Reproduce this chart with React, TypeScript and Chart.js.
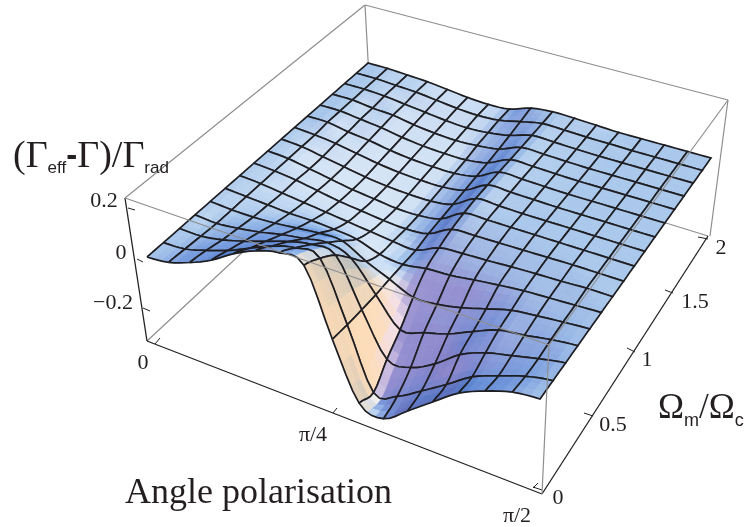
import React, { useEffect, useRef } from "react";
import { Chart, registerables } from "chart.js";
Chart.register(...registerables);

const thetaTicks = ["0", "π/4", "π/2"];
const omegaTicks = ["0", "0.5", "1", "1.5", "2"];
const zTicks = ["0.2", "0", "−0.2"];

const z0 = [0,.01,.04,.08,.136,.18,.205,.19,-.06,-.27,-.295,-.23,-.16,-.09,-.045,-.012,0];
const z1 = [0,.005,.03,.06,.10,.14,.165,.157,-.067,-.295,-.275,-.22,-.16,-.095,-.055,-.02,0];
const z2 = [0,0,.015,.04,.07,.10,.12,.11,-.07,-.23,-.228,-.18,-.11,-.068,-.044,-.02,0];
const z3 = [0,-.005,.005,.02,.04,.055,.07,.04,-.072,-.177,-.155,-.127,-.084,-.044,-.03,-.012,0];
const z4 = [0,-.005,-.005,0,.01,.02,.02,-.03,-.07,-.11,-.105,-.086,-.058,-.03,-.018,-.008,0];
const z5 = [0,-.005,-.01,-.015,-.015,-.02,-.03,-.06,-.07,-.055,-.05,-.037,-.025,-.015,-.01,-.005,0];
const z6 = [0,-.005,-.015,-.025,-.035,-.045,-.055,-.065,-.07,-.03,-.022,-.018,-.012,-.008,-.005,0,0];
const z7 = [0,-.005,-.015,-.03,-.045,-.055,-.065,-.07,-.06,-.012,-.008,-.006,-.004,-.002,0,0,0];
const z8 = [0,-.005,-.02,-.035,-.05,-.06,-.07,-.07,-.055,-.002,0,0,0,0,0,0,0];
const z9 = [0,-.005,-.02,-.035,-.05,-.06,-.065,-.065,-.05,.003,.002,0,0,0,0,0,0];
const z10 = [0,-.005,-.015,-.03,-.045,-.055,-.06,-.06,-.045,.005,.004,.002,0,0,0,0,0];
const z11 = [0,0,-.015,-.025,-.04,-.05,-.055,-.055,-.04,.006,.005,.002,0,0,0,0,0];
const z12 = [0,0,-.01,-.02,-.035,-.045,-.05,-.05,-.035,.006,.005,.002,0,0,0,0,0];
const z13 = [0,0,-.01,-.015,-.03,-.04,-.045,-.04,-.028,.006,.005,.002,0,0,0,0,0];
const z14 = [0,0,-.005,-.015,-.025,-.035,-.04,-.035,-.02,.007,.005,.002,0,0,0,0,0];
const z15 = [0,0,-.005,-.01,-.02,-.03,-.035,-.03,-.01,.008,.006,.003,.002,0,0,0,0];
const z16 = [0,0,-.005,-.01,-.02,-.03,-.035,-.03,0,.01,.008,.004,0,0,0,0,0];
const Z = [z0,z1,z2,z3,z4,z5,z6,z7,z8,z9,z10,z11,z12,z13,z14,z15,z16];
const N = 16;

// projection of the plotted box
const A = [147, 257], B = [540, 399], C = [711, 158], D = [368, 63];
const det = (a: number[], b: number[]) => a[0] * b[1] - a[1] * b[0];
const dx1 = [B[0] - C[0], B[1] - C[1]], dx2 = [D[0] - C[0], D[1] - C[1]];
const sv0 = [A[0] - B[0] + C[0] - D[0], A[1] - B[1] + C[1] - D[1]];
const g = det(sv0, dx2) / det(dx1, dx2), h = det(dx1, sv0) / det(dx1, dx2);
const blin = (a: number, b: number, c: number, d: number, u: number, v: number) =>
  a * (1 - u) * (1 - v) + b * u * (1 - v) + c * u * v + d * (1 - u) * v;
function project(u: number, v: number, z: number) {
  const w = 1 + g * u + h * v;
  const qx = (A[0] + (B[0] * (1 + g) - A[0]) * u + (D[0] * (1 + h) - A[0]) * v) / w;
  const qy = (A[1] + (B[1] * (1 + g) - A[1]) * u + (D[1] * (1 + h) - A[1]) * v) / w;
  const s = blin(260, 262, 237, 223, u, v);
  const tilt = blin(-0.154, 0.047, 0.133, -0.024, u, v);
  return { x: qx + z * s * tilt, y: qy - z * s };
}
const cr = (p0: number, p1: number, p2: number, p3: number, t: number) =>
  0.5 * (2 * p1 + (p2 - p0) * t + (2 * p0 - 5 * p1 + 4 * p2 - p3) * t * t + (3 * p1 - p0 - 3 * p2 + p3) * t * t * t);
const clampI = (n: number) => Math.max(0, Math.min(N, n));
function zAt(i: number, j: number) {
  const i0 = Math.min(N - 1, Math.floor(i)), j0 = Math.min(N - 1, Math.floor(j));
  const ti = i - i0, tj = j - j0;
  const col = [-1, 0, 1, 2].map((dj) => {
    const r = Z[clampI(j0 + dj)];
    return cr(r[clampI(i0 - 1)], r[i0], r[i0 + 1], r[clampI(i0 + 2)], ti);
  });
  return cr(col[0], col[1], col[2], col[3], tj);
}
const P = (i: number, j: number) => project(i / N, j / N, zAt(i, j));

const mix = (a: number[], b: number[], t: number) => a.map((v, k) => v + (b[k] - v) * t);
const base = [170, 200, 235];
const lightStops: [number, number[]][] = [[0, base], [0.3, [216, 231, 247]], [0.9, [248, 240, 232]], [1.7, [252, 222, 190]], [9, [252, 213, 170]]];
const darkStops: [number, number[]][] = [[0, base], [0.45, [125, 160, 222]], [0.9, [88, 128, 206]], [1.4, [100, 100, 175]], [9, [90, 78, 140]]];
function ramp(st: [number, number[]][], a: number) {
  for (let k = 1; k < st.length; k++) if (a <= st[k][0]) return mix(st[k - 1][1], st[k][1], (a - st[k - 1][0]) / (st[k][0] - st[k - 1][0]));
  return st[st.length - 1][1];
}
const PURPLE = [150, 138, 205], PINK = [242, 220, 236], PALE = [218, 232, 247];
function shade(i: number, j: number) {
  const e = 0.25;
  const su = (zAt(Math.min(N, i + e), j) - zAt(Math.max(0, i - e), j)) / (2 * e) * N;
  const sv = (zAt(i, Math.min(N, j + e)) - zAt(i, Math.max(0, j - e))) / (2 * e) * N;
  let c = su < 0 ? ramp(lightStops, -su) : ramp(darkStops, su);
  if (sv > 0) {
    let k = Math.min(1, sv / 0.9) * 0.85;
    if (su < -1.5) k *= Math.max(0, 1 - (-su - 1.5) / 1.0);
    const target = su < -0.3 ? mix(PURPLE, PINK, Math.min(1, (-su - 0.3) / 0.8)) : PURPLE;
    c = mix(c, target, k);
  } else {
    const k = Math.min(1, -sv / 1.2);
    c = mix(c, [c[0] * 0.72, c[1] * 0.85, c[2]], k);
  }
  if (i < 7.3 && j > 3.5) c = mix(c, PALE, Math.min(1, -zAt(i, j) / 0.05) * 0.8 * Math.min(1, (7.3 - i) / 0.8));
  return `rgb(${c.map((v) => Math.round(v)).join(",")})`;
}

const SUB = 3;
function buildCells() {
  const out: any[] = [];
  const none = { pointRadius: 0, showLine: true, parsing: false, clip: false };
  for (let i = N - 1; i >= 0; i--) {
    for (let j = 0; j < N; j++) {
      const rim: any[] = [];
      for (let s = 0; s < 4; s++) rim.push(P(i + s / 4, j));
      for (let s = 0; s < 4; s++) rim.push(P(i + 1, j + s / 4));
      for (let s = 0; s < 4; s++) rim.push(P(i + 1 - s / 4, j + 1));
      for (let s = 0; s <= 4; s++) rim.push(P(i, j + 1 - s / 4));
      out.push({ ...none, data: rim, fill: false, borderColor: "#1e1e22", borderWidth: 1.7 });
      for (let a = SUB - 1; a >= 0; a--) {
        for (let b = 0; b < SUB; b++) {
          const i0 = i + a / SUB, i1 = i + (a + 1) / SUB, j0 = j + b / SUB, j1 = j + (b + 1) / SUB;
          const col = shade((i0 + i1) / 2, (j0 + j1) / 2);
          out.push({ ...none, data: [P(i0, j0), P(i1, j0), P(i1, j1), P(i0, j1), P(i0, j0)], fill: "shape", backgroundColor: col, borderColor: col, borderWidth: 0.7 });
        }
      }
    }
  }
  return out;
}

const seg = (a: number[], b: number[], color: string, w = 1) => ({
  data: [{ x: a[0], y: a[1] }, { x: b[0], y: b[1] }], showLine: true, pointRadius: 0, borderColor: color, borderWidth: w, fill: false, parsing: false, clip: false,
});
const GR = "#8e8e8e", DK = "#222222";
const frontLines = [
  seg([125, 198], [549, 345], GR, 1.2), seg([549, 345], [728, 100], GR, 1.2), seg([549, 345], [542, 494], GR, 1.2),
  seg([125, 198], [365, 5], GR, 1.2), seg([365, 5], [728, 100], GR, 1.2), seg([728, 100], [710, 236], GR, 1.2),
  seg([125, 198], [147, 341], DK, 1.3), seg([147, 341], [542, 494], DK, 1.3), seg([542, 494], [708, 236], DK, 1.3),
  seg([128, 208], [135, 210], DK), seg([137, 259], [143, 262], DK), seg([143, 308], [150, 311], DK),
  seg([155, 344], [160, 338], DK), seg([333, 413], [337, 408], DK), seg([533, 488], [538, 483], DK),
  seg([698, 237], [708, 239], DK), seg([665, 290], [673, 293], DK), seg([627, 348], [635, 352], DK), seg([584, 413], [593, 416], DK), seg([533, 487], [542, 490], DK),
];
const backLines = [seg([147, 341], [372, 132], GR, 1.2), seg([372, 132], [708, 236], GR, 1.2), seg([365, 5], [372, 132], GR, 1.2)];

const labelsPlugin = {
  id: "labels",
  afterDraw(chart: any) {
    const ctx = chart.ctx;
    const X = (v: number) => chart.scales.x.getPixelForValue(v);
    const Y = (v: number) => chart.scales.y.getPixelForValue(v);
    const T = `"Liberation Serif"`, S = `"Liberation Sans"`;
    ctx.save();
    ctx.fillStyle = "#231f20";
    ctx.textBaseline = "alphabetic";
    ctx.textAlign = "center";
    ctx.font = `22px ${T}`;
    const put = (t: string, x: number, y: number) => ctx.fillText(t, X(x), Y(y));
    put(zTicks[0], 104, 207); put(zTicks[1], 121, 259); put(zTicks[2], 113, 309);
    put(thetaTicks[0], 143, 369); put(thetaTicks[1], 313, 441); put(thetaTicks[2], 517, 522);
    put(omegaTicks[0], 558, 504); put(omegaTicks[1], 613, 431); put(omegaTicks[2], 647, 366); put(omegaTicks[3], 695, 308); put(omegaTicks[4], 721, 254);
    ctx.textAlign = "left";
    const run = (parts: [string, string, number][], x: number, y: number) => {
      let cx = x;
      for (const [t, f, dy] of parts) {
        ctx.font = f;
        ctx.fillText(t, X(cx), Y(y + dy));
        cx += ctx.measureText(t).width;
      }
    };
    const big = `38px ${T}`, sub = `17px ${S}`;
    run([["(Γ", big, 0], ["eff", sub, 6], ["-", `bold 33px ${S}`, -1], ["Γ)/Γ", big, 0], ["rad", sub, 6]], 13, 167);
    run([["Ω", `35px ${T}`, 0], ["m", `18px ${S}`, 8], ["/Ω", `35px ${T}`, 0], ["c", `18px ${S}`, 8]], 658, 418);
    ctx.font = `36px ${T}`;
    ctx.fillText("Angle polarisation", X(125), Y(503));
    ctx.restore();
  },
};

export default function App() {
  const ref = useRef<HTMLCanvasElement>(null);
  useEffect(() => {
    document.body.style.margin = "0";
    const chart = new Chart(ref.current!, {
      type: "scatter",
      data: { datasets: [...frontLines, ...buildCells(), ...backLines] as any },
      options: {
        responsive: false,
        animation: false,
        events: [],
        layout: { padding: 0 },
        plugins: { legend: { display: false }, tooltip: { enabled: false }, title: { display: false } },
        scales: {
          x: { type: "linear", display: false, min: 0, max: 749 },
          y: { type: "linear", display: false, min: 0, max: 527, reverse: true },
        },
      },
      plugins: [labelsPlugin],
    });
    return () => chart.destroy();
  }, []);
  return <canvas ref={ref} width={749} height={527} style={{ display: "block" }} />;
}
